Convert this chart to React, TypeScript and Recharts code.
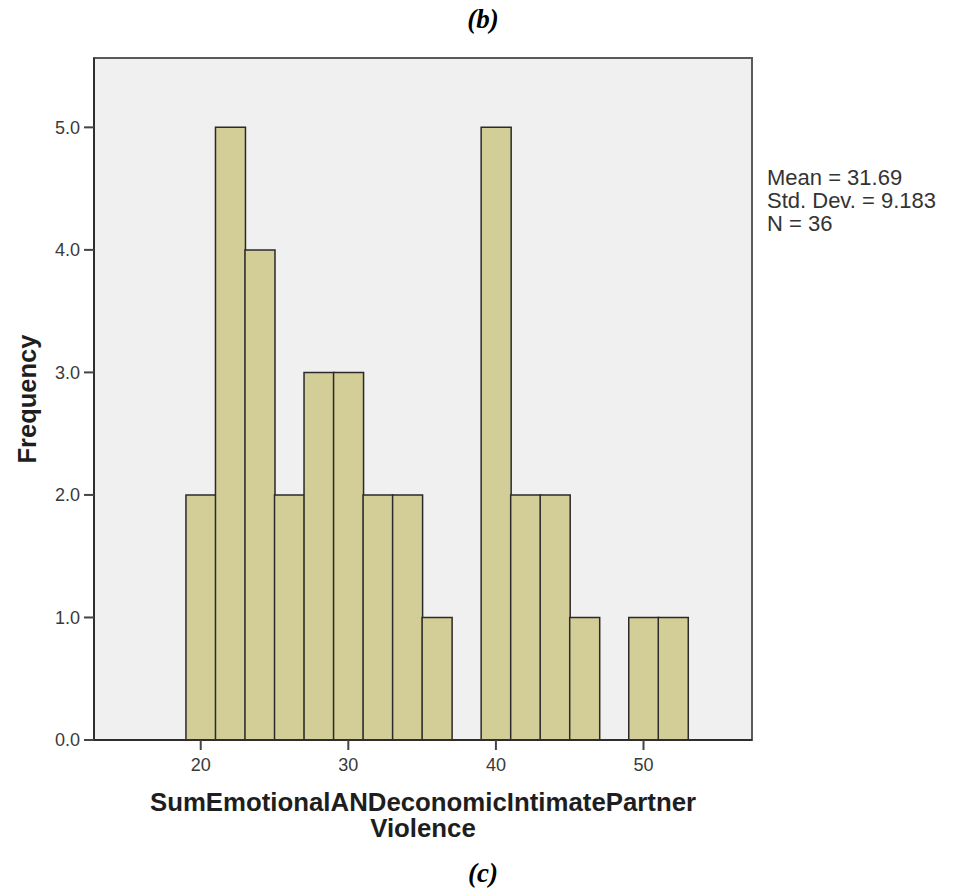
import { ComposedChart, Bar, XAxis, YAxis, CartesianGrid, ReferenceArea, Label } from 'recharts'

// bin centres (bin width 2, from 19 to 53)
const binCenters = [20, 22, 24, 26, 28, 30, 32, 34, 36, 38, 40, 42, 44, 46, 48, 50, 52]
const frequencies = [2, 5, 4, 2, 3, 3, 2, 2, 1, 0, 5, 2, 2, 1, 0, 1, 1]
const xTicks = [20, 30, 40, 50]
const yTicks = [0, 1, 2, 3, 4, 5]
const xDomain = [12.77, 57.35]
const yDomain = [0, 5.566]
const statLines = ['Mean = 31.69', 'Std. Dev. = 9.183', 'N = 36']
const xTitle = ['SumEmotionalANDeconomicIntimatePartner', 'Violence']

const sans = '"Liberation Sans", Arial, sans-serif'
const serif = '"Liberation Serif", "Times New Roman", serif'

const chartData = binCenters.map((c, i) => ({ bin: c, count: frequencies[i] }))

function XTitle(props: any) {
  const vb = props.viewBox
  if (!vb) return null
  const cx = vb.x + vb.width / 2
  return (
    <g>
      {xTitle.map((t, i) => (
        <text
          key={t}
          x={cx}
          y={vb.y + 71 + i * 26}
          textAnchor="middle"
          fontFamily={sans}
          fontWeight="bold"
          fontSize={25.8}
          fill="#1e1e1e"
        >
          {t}
        </text>
      ))}
    </g>
  )
}

const caption = {
  position: 'absolute' as const,
  left: 0,
  width: 966,
  textAlign: 'center' as const,
  fontFamily: serif,
  fontWeight: 'bold',
  fontStyle: 'italic',
  fontSize: 27,
  lineHeight: '27px',
}

export default function App() {
  return (
    <div style={{ position: 'absolute', left: 0, top: 0, width: 975, height: 893, background: '#fff' }}>
      <div style={{ ...caption, top: 6 }}>(b)</div>
      <ComposedChart
        width={975}
        height={893}
        data={chartData}
        margin={{ top: 58, right: 223, bottom: 93, left: 14 }}
        barCategoryGap={0}
      >
        <CartesianGrid fill="#f0f0f0" horizontal={false} vertical={false} />
        <XAxis
          dataKey="bin"
          type="number"
          domain={xDomain}
          ticks={xTicks}
          allowDataOverflow
          height={60}
          tickSize={10}
          tickMargin={8}
          axisLine={{ stroke: '#2e2e2e', strokeWidth: 2 }}
          tickLine={{ stroke: '#444', strokeWidth: 2 }}
          tick={{ fill: '#3a3a3a', fontSize: 18, fontFamily: sans }}
        >
          <Label content={<XTitle />} />
        </XAxis>
        <YAxis
          type="number"
          domain={yDomain}
          ticks={yTicks}
          allowDataOverflow
          width={80}
          tickSize={10}
          tickMargin={4}
          tickFormatter={(v: number) => v.toFixed(1)}
          axisLine={{ stroke: '#2e2e2e', strokeWidth: 2 }}
          tickLine={{ stroke: '#444', strokeWidth: 2 }}
          tick={{ fill: '#3a3a3a', fontSize: 18, fontFamily: sans }}
          label={{
            value: 'Frequency',
            angle: -90,
            position: 'insideLeft',
            offset: 13,
            style: { textAnchor: 'middle', fontWeight: 'bold', fontSize: 25.5, fontFamily: sans, fill: '#1e1e1e' },
          }}
        />
        <Bar
          dataKey="count"
          fill="#d3ce97"
          stroke="#2a2a2a"
          strokeWidth={1.5}
          isAnimationActive={false}
        />
        <ReferenceArea
          x1={xDomain[0]}
          x2={xDomain[1]}
          y1={yDomain[0]}
          y2={yDomain[1]}
          fill="none"
          stroke="#5a5a5a"
          strokeWidth={2}
          ifOverflow="visible"
        />
      </ComposedChart>
      <div
        style={{
          position: 'absolute',
          left: 767,
          top: 166,
          fontFamily: sans,
          fontSize: 22,
          lineHeight: '23px',
          color: '#333',
        }}
      >
        {statLines.map((s) => (
          <div key={s}>{s}</div>
        ))}
      </div>
      <div style={{ ...caption, top: 860 }}>(c)</div>
    </div>
  )
}
